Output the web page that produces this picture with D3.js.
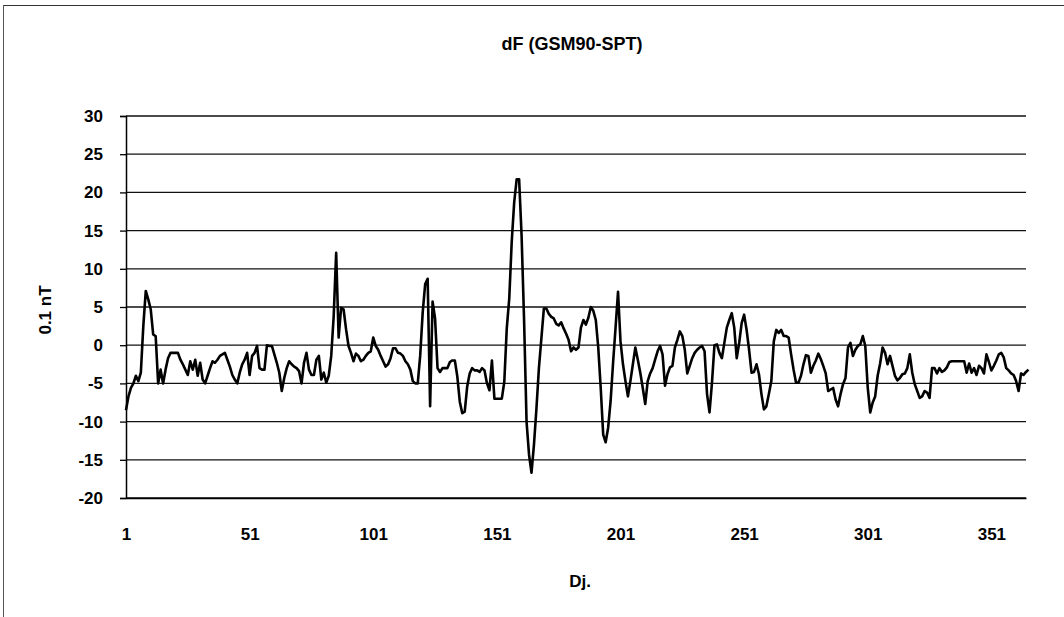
<!DOCTYPE html>
<html>
<head>
<meta charset="utf-8">
<script src="https://cdn.jsdelivr.net/npm/d3@7"></script>
<style>
  html, body { margin: 0; padding: 0; background: #fff; }
  svg { display: block; }
  text { font-family: "Liberation Sans", Arial, sans-serif; font-weight: bold; fill: #000; }
</style>
</head>
<body>
<svg id="chart" width="1064" height="617"></svg>
<script>
// ---------------- data ----------------
const chartTitle = "dF (GSM90-SPT)";
const xAxisTitle = "Dj.";
const yAxisTitle = "0.1 nT";

// daily values (0.1 nT), day 1 .. 365
const dfValues = [
  -8.5,-6.7,-5.6,-5,-4,-4.7,-3.6,2.5,7.1,6,4.7,1.4,1.2,-5,-3.2,-5,-3.2,-1.7,-1,-1,
  -1,-1,-1.9,-2.5,-3.2,-3.9,-2.1,-3.2,-1.9,-4,-2.3,-4.5,-5,-4,-3,-2.1,-2.3,-1.9,-1.4,-1.2,
  -1,-1.9,-2.8,-3.9,-4.5,-5,-3.6,-2.5,-1.9,-1,-3.9,-1.4,-1,-0.1,-3,-3.2,-3.2,0,
  -0.1,-0.1,-1.2,-2.3,-3.6,-6,-4.3,-3,-2.1,-2.5,-2.8,-3,-3.4,-5,-2.3,-1,-3.2,-3.9,-3.9,-1.9,
  -1.4,-4.5,-3.6,-4.9,-4,-1.4,3.8,12.1,1,4.9,4.7,2.1,-0.1,-1,-2.1,-1.1,-1.4,-2.1,-1.9,-1.4,
  -1,-0.8,1,-0.1,-0.6,-1.4,-2.1,-2.8,-2.5,-1.7,-0.4,-0.4,-1,-1.1,-1.4,-2.1,-2.5,-3.2,-4.7,-5,-5,
  -1.3,4.3,8,8.7,-8,5.7,3.5,-3,-3.5,-3,-3,-3,-2.2,-2,-2,-4.1,-7.4,-8.9,-8.7,-5.4,
  -3.7,-3,-3.3,-3.3,-3.5,-3,-3.3,-5,-5.9,-2,-7,-7,-7,-7,-4.8,2.2,6.1,13.5,18.7,21.7,
  21.7,14.3,3.3,-10,-14.3,-16.7,-13,-8.3,-3,0.9,4.8,4.8,4.1,3.7,3.5,2.8,2.6,3,2.2,
  1.5,0.7,-0.8,-0.3,-0.6,-0.3,2.3,3.3,2.7,3.6,5,4.5,3.3,-0.3,-5.6,-11.7,-12.7,-10.8,-7.3,-2.3,
  2.3,7,0.5,-2.5,-4.7,-6.7,-4.7,-2.5,-0.3,-1.9,-3.6,-5.6,-7.7,-4.7,-3.7,-3,-1.9,-0.8,-0.1,-1.2,
  -5.3,-3.8,-2.9,-2.7,-0.3,0.7,1.8,1.2,-0.6,-3.7,-2.7,-1.7,-1,-0.6,-0.3,-0.1,-0.8,-6.4,-8.8,-4.9,
  0,0.1,-1,-1.7,0.3,2.3,3.3,4.2,2.3,-1.7,0.3,2.9,4,2,-0.6,-3.6,-3.5,-2.5,-3.8,-6.4,
  -8.4,-8,-6.4,-4.7,0.5,2,1.6,2,1.2,1.2,1,-1.2,-3.2,-4.9,-4.9,-4,-2.5,-1.3,-1.4,-3.6,
  -2.7,-2,-1.1,-1.8,-2.7,-3.7,-6,-5.8,-5.6,-7.1,-8,-6.4,-5.1,-4.3,-0.3,0.3,-1.4,-0.6,-0.1,0.1,
  1.2,-0.1,-5.6,
  -8.8,-7.5,-6.7,-4,-2.4,-0.3,-1,-2.5,-1.4,-2.7,-4,-4.6,-4.3,-3.8,-3.7,-3,-1.2,-3.6,-5.1,-6,
  -6.9,-6.7,-6,-6.2,-6.9,-3,-3,-3.7,-3,-3.5,-3.3,-2.9,-2.2,-2.1,-2.1,-2.1,-2.1,-2.1,-2.1,-3.6,
  -2.4,-3.6,-3,-3.9,-2.7,-3,-3.7,-1.2,-2.2,-3.3,-2.7,-2,-1.2,-1,-1.6,-3,-3.3,-3.7,-3.9,-4.7,
  -6,-3.7,-3.9,-3.5,-3.2
];
const days = dfValues.map((v, i) => i + 1);

const yTicks = [-20, -15, -10, -5, 0, 5, 10, 15, 20, 25, 30];
const xTickDays = [1, 51, 101, 151, 201, 251, 301, 351];

// ---------------- layout ----------------
const svg = d3.select("#chart");
const plot = { left: 126, right: 1026, top: 116, bottom: 498 };

const x = d3.scaleLinear().domain([1, 365]).range([plot.left, plot.right]);
const y = d3.scaleLinear().domain([-20, 30]).range([plot.bottom, plot.top]);

// outer frame (scanned border)
svg.append("line").attr("x1", 3).attr("x2", 1064).attr("y1", 5.5).attr("y2", 5.5)
  .attr("stroke", "#333").attr("stroke-width", 1.2);
svg.append("line").attr("x1", 3.5).attr("x2", 3.5).attr("y1", 5).attr("y2", 617)
  .attr("stroke", "#555").attr("stroke-width", 1);

// gridlines
svg.append("g")
  .selectAll("line")
  .data(yTicks)
  .join("line")
  .attr("x1", plot.left).attr("x2", plot.right)
  .attr("y1", d => y(d)).attr("y2", d => y(d))
  .attr("stroke", "#111").attr("stroke-width", 1.3);

// y axis
const yAxis = d3.axisLeft(y).tickValues(yTicks).tickFormat(d => String(d)).tickSize(6).tickPadding(17);
const gy = svg.append("g").attr("transform", `translate(${plot.left},0)`).call(yAxis);
gy.select(".domain").attr("stroke", "#000").attr("stroke-width", 1.5);
gy.selectAll(".tick line").attr("stroke", "#000").attr("stroke-width", 1.3);
gy.selectAll(".tick text").style("font-size", "17px").attr("fill", "#000");

// x axis (labels only)
const xAxis = d3.axisBottom(x).tickValues(xTickDays).tickFormat(d => String(d)).tickSize(0).tickPadding(30);
const gx = svg.append("g").attr("transform", `translate(0,${plot.bottom})`).call(xAxis);
gx.select(".domain").attr("stroke", "#000").attr("stroke-width", 1.5);
gx.selectAll(".tick text").style("font-size", "17px").attr("fill", "#000");

// data line
const line = d3.line().x((d, i) => x(days[i])).y(d => y(d));
svg.append("path")
  .datum(dfValues)
  .attr("fill", "none")
  .attr("stroke", "#000")
  .attr("stroke-width", 2.6)
  .attr("stroke-linejoin", "round")
  .attr("d", line);

// titles
svg.append("text").attr("x", 572).attr("y", 50).attr("text-anchor", "middle")
  .style("font-size", "18px").text(chartTitle);
svg.append("text").attr("x", 580).attr("y", 587).attr("text-anchor", "middle")
  .style("font-size", "17px").text(xAxisTitle);
svg.append("text").attr("transform", "translate(51,310) rotate(-90)").attr("text-anchor", "middle")
  .style("font-size", "17px").text(yAxisTitle);
</script>
</body>
</html>
